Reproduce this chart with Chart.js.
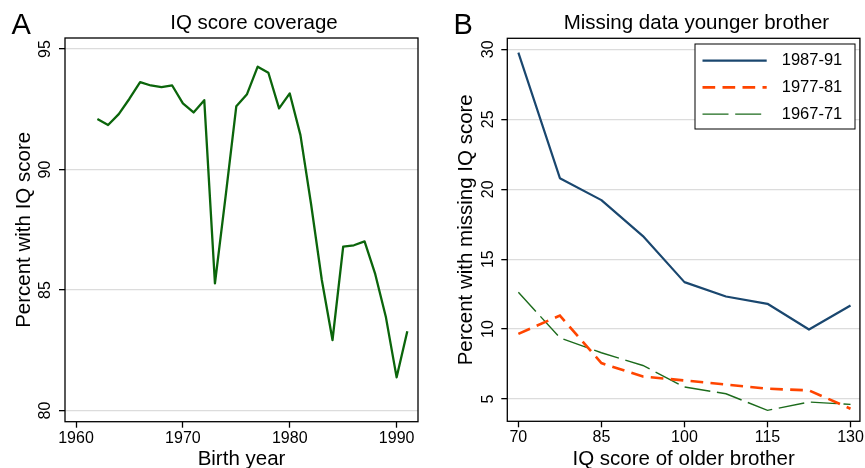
<!DOCTYPE html>
<html>
<head>
<meta charset="utf-8">
<title>IQ score coverage / Missing data younger brother</title>
<script src="https://cdn.jsdelivr.net/npm/chart.js@4/dist/chart.umd.min.js"></script>
<style>
  html, body { margin: 0; padding: 0; background: #fff; }
  #wrap { position: relative; width: 865px; height: 468px; overflow: hidden; }
  #wrap canvas { position: absolute; left: 0; top: 0; }
</style>
</head>
<body>
<div id="wrap">
  <canvas id="chartA" width="865" height="468"></canvas>
  <canvas id="chartB" width="865" height="468"></canvas>
</div>
<script>
// Panel A: share of men with an IQ score, by birth year
const birthYears = [1962, 1963, 1964, 1965, 1966, 1967, 1968, 1969, 1970, 1971,
  1972, 1973, 1974, 1975, 1976, 1977, 1978, 1979, 1980, 1981,
  1982, 1983, 1984, 1985, 1986, 1987, 1988, 1989, 1990, 1991];
const coveragePct = [92.1, 91.85, 92.3, 92.94, 93.63, 93.49, 93.42, 93.49, 92.75, 92.37,
  92.88, 85.28, 88.9, 92.63, 93.13, 94.27, 94.02, 92.54, 93.16, 91.43,
  88.55, 85.42, 82.93, 86.8, 86.86, 87.02, 85.66, 83.87, 81.38, 83.29];
const yearTicks = [1960, 1970, 1980, 1990];
const coverageTicks = [80, 85, 90, 95];

// Panel B: percent of younger brothers missing an IQ score, by older brother's IQ
const olderIQ = [70, 77.5, 85, 92.5, 100, 107.5, 115, 122.5, 130];
const missing8791 = [29.76, 20.79, 19.22, 16.65, 13.36, 12.33, 11.81, 9.97, 11.69];
const missing7781 = [9.66, 10.97, 7.57, 6.61, 6.33, 6.04, 5.74, 5.62, 4.31];
const missing6771 = [12.64, 9.38, 8.31, 7.40, 5.86, 5.38, 4.19, 4.79, 4.62];
const cohortLabels = ["1987-91", "1977-81", "1967-71"];
const iqTicks = [70, 85, 100, 115, 130];
const missingTicks = [5, 10, 15, 20, 25, 30];

const FONT = "'Liberation Sans', Arial, sans-serif";
Chart.defaults.font.family = FONT;
Chart.defaults.color = "#000";

const toPoints = (xs, ys) => xs.map((x, i) => ({ x: x, y: ys[i] }));

// frame, rotated y labels, titles, panel letter and (optional) legend
const panelDecor = {
  id: "panelDecor",
  afterDraw(chart, args, opts) {
    const ctx = chart.ctx;
    const a = chart.chartArea;
    const yScale = chart.scales.y;
    ctx.save();

    ctx.strokeStyle = "#000";
    ctx.lineWidth = 1.3;
    ctx.strokeRect(a.left, a.top, a.right - a.left, a.bottom - a.top);

    ctx.fillStyle = "#000";
    ctx.font = "16px " + FONT;
    ctx.textAlign = "center";
    ctx.textBaseline = "alphabetic";
    yScale.ticks.forEach((t) => {
      ctx.save();
      ctx.translate(opts.tickBaseX, yScale.getPixelForValue(t.value));
      ctx.rotate(-Math.PI / 2);
      ctx.fillText(String(t.value), 0, 0);
      ctx.restore();
    });

    // axis titles
    ctx.font = "20.5px " + FONT;
    ctx.save();
    ctx.translate(opts.yTitleX, (a.top + a.bottom) / 2);
    ctx.rotate(-Math.PI / 2);
    ctx.fillText(opts.yTitle, 0, 0);
    ctx.restore();
    ctx.fillText(opts.xTitle, (a.left + a.right) / 2, 465);

    // panel title and letter
    ctx.fillText(opts.title, opts.titleX, 29.3);
    ctx.font = "29px " + FONT;
    ctx.textAlign = "left";
    ctx.fillText(opts.letter, opts.letterX, 34);

    const L = opts.legend;
    if (L) {
      ctx.fillStyle = "#fff";
      ctx.fillRect(L.x, L.y, L.w, L.h);
      ctx.strokeStyle = "#000";
      ctx.lineWidth = 1;
      ctx.strokeRect(L.x, L.y, L.w, L.h);
      chart.data.datasets.forEach((ds, i) => {
        const y = L.y + 16.7 + i * 26.7;
        ctx.strokeStyle = ds.borderColor;
        ctx.lineWidth = ds.borderWidth;
        ctx.setLineDash(ds.borderDash || []);
        ctx.beginPath();
        ctx.moveTo(L.x + 7.5, y);
        ctx.lineTo(L.x + 71.7, y);
        ctx.stroke();
        ctx.setLineDash([]);
        ctx.fillStyle = "#000";
        ctx.font = "16.5px " + FONT;
        ctx.textAlign = "left";
        ctx.textBaseline = "middle";
        ctx.fillText(ds.label, L.x + 86.7, y);
      });
    }
    ctx.restore();
  },
};

function xAxis(min, max, tickValues, height) {
  return {
    type: "linear",
    min: min,
    max: max,
    afterBuildTicks: (s) => { s.ticks = tickValues.map((v) => ({ value: v })); },
    afterFit: (s) => { s.height = height; },
    border: { display: false },
    grid: { drawOnChartArea: false, drawTicks: true, tickLength: 6, tickColor: "#000", tickWidth: 1.3 },
    ticks: { autoSkip: false, maxRotation: 0, padding: 1, font: { size: 16 }, color: "#000",
      callback: (v) => String(v) },
  };
}

function yAxis(min, max, tickValues, width) {
  return {
    type: "linear",
    min: min,
    max: max,
    afterBuildTicks: (s) => { s.ticks = tickValues.map((v) => ({ value: v })); },
    afterFit: (s) => { s.width = width; },
    border: { display: false },
    grid: { color: "#dcdcdc", lineWidth: 1.3, drawTicks: true, tickLength: 6, tickColor: "#000", tickWidth: 1.3 },
    ticks: { display: false },
  };
}

new Chart(document.getElementById("chartA"), {
  type: "line",
  data: {
    datasets: [
      {
        label: "IQ score coverage",
        data: toPoints(birthYears, coveragePct),
        borderColor: "#0b650b",
        borderWidth: 2.3,
        borderJoinStyle: "round",
        pointRadius: 0,
        tension: 0,
      },
    ],
  },
  options: {
    responsive: false,
    animation: false,
    layout: { padding: { top: 38, right: 447, left: 0, bottom: 0 } },
    scales: {
      x: xAxis(1958.97, 1992.0, yearTicks, 46.3),
      y: yAxis(79.54, 95.46, coverageTicks, 65),
    },
    plugins: {
      legend: { display: false },
      tooltip: { enabled: false },
      panelDecor: {
        letter: "A", letterX: 11.5,
        title: "IQ score coverage", titleX: 254,
        xTitle: "Birth year",
        yTitle: "Percent with IQ score", yTitleX: 30,
        tickBaseX: 50,
      },
    },
  },
  plugins: [panelDecor],
});

new Chart(document.getElementById("chartB"), {
  type: "line",
  data: {
    datasets: [
      {
        label: cohortLabels[0],
        data: toPoints(olderIQ, missing8791),
        borderColor: "#1a476f",
        borderWidth: 2.2,
        borderJoinStyle: "round",
        pointRadius: 0,
      },
      {
        label: cohortLabels[1],
        data: toPoints(olderIQ, missing7781),
        borderColor: "#ff4500",
        borderWidth: 2.6,
        borderDash: [12.7, 7.3],
        pointRadius: 0,
      },
      {
        label: cohortLabels[2],
        data: toPoints(olderIQ, missing6771),
        borderColor: "#1c6b1c",
        borderWidth: 1.4,
        borderDash: [26, 6.7],
        pointRadius: 0,
      },
    ],
  },
  options: {
    responsive: false,
    animation: false,
    layout: { padding: { top: 38.3, right: 5, left: 0, bottom: 0 } },
    scales: {
      x: xAxis(68.0, 131.7, iqTicks, 46.7),
      y: yAxis(3.41, 30.79, missingTicks, 507.3),
    },
    plugins: {
      legend: { display: false },
      tooltip: { enabled: false },
      panelDecor: {
        letter: "B", letterX: 453.5,
        title: "Missing data younger brother", titleX: 696.4,
        xTitle: "IQ score of older brother",
        yTitle: "Percent with missing IQ score", yTitleX: 471.5,
        tickBaseX: 493,
        legend: { x: 695, y: 44, w: 160, h: 85 },
      },
    },
  },
  plugins: [panelDecor],
});
</script>
</body>
</html>
